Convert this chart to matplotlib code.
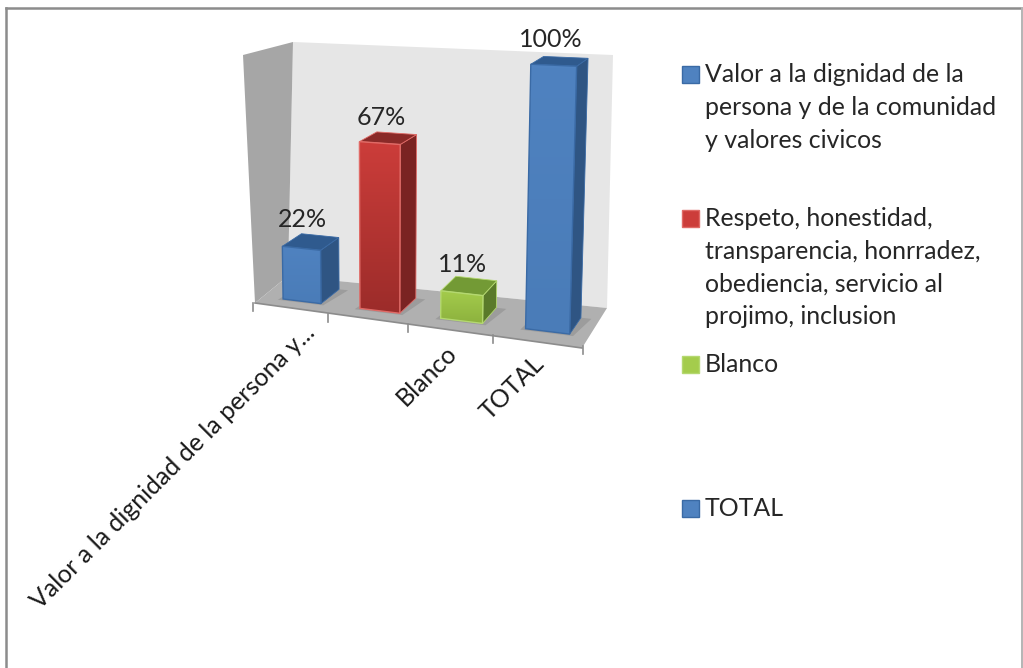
import numpy as np
import matplotlib
matplotlib.use('Agg')
import matplotlib.pyplot as plt
from matplotlib.patches import Polygon, Rectangle

plt.rcParams['font.family'] = ['Lato', 'DejaVu Sans']

# chart data
categories = ['Valor a la dignidad de la persona y...', '', 'Blanco', 'TOTAL']
values = [22, 67, 11, 100]
value_labels = ['22%', '67%', '11%', '100%']
legend_labels = [
    'Valor a la dignidad de la\npersona y de la comunidad\ny valores civicos',
    'Respeto, honestidad,\ntransparencia, honrradez,\nobediencia, servicio al\nprojimo, inclusion',
    'Blanco',
    'TOTAL',
]

# face colours: top of gradient, bottom of gradient, side, roof, edge
bar_styles = [
    ('#4f82c0', '#4a7cb8', '#2f5583', '#2f5a8e', '#3a6aa5'),
    ('#cc3d3a', '#9c2c2a', '#7a2322', '#8a2a28', '#e06a66'),
    ('#a4cc4c', '#8db23e', '#5a7a2a', '#739a35', '#b4d870'),
    ('#4f82c0', '#4a7cb8', '#2f5583', '#2f5a8e', '#3a6aa5'),
]

W, H = 1023, 668
VMAX = 100.0
BAR_WIDTH = 0.5   # of a category slot
BAR_SHIFT = 0.009
D0, D1 = 0.25, 0.72

# scene box corners (x, v, d) -> pixel, used to fit the perspective of the 3d chart
box_3d = np.array([
    [0, 0, 0], [1, 0, 0], [0, 0, 1], [1, 0, 1],
    [0, 1, 0], [0, 1, 1], [1, 1, 1],
], dtype=float)
box_px = np.array([
    [255, 303], [582, 348], [288, 276], [607, 308],
    [243, 55], [293, 42], [613, 55],
], dtype=float)

rows, rhs = [], []
for (x, v, d), (u, w) in zip(box_3d, box_px):
    rows.append([x, v, d, 1, 0, 0, 0, 0, -u * x, -u * v, -u * d])
    rows.append([0, 0, 0, 0, x, v, d, 1, -w * x, -w * v, -w * d])
    rhs += [u, w]
cam = np.linalg.lstsq(np.array(rows), np.array(rhs), rcond=None)[0]
cam = np.append(cam, 1.0).reshape(3, 4)


def project(x, v, d):
    p = cam @ np.array([x, v, d, 1.0])
    return p[0] / p[2], p[1] / p[2]


fig = plt.figure(figsize=(W / 100, H / 100), dpi=100)
ax = fig.add_axes([0, 0, 1, 1])
ax.set_xlim(0, W)
ax.set_ylim(H, 0)
ax.axis('off')


def face(pts, color, z=2, edge='none', lw=0):
    poly = Polygon([project(*p) for p in pts], closed=True, facecolor=color,
                   edgecolor=edge, linewidth=lw, zorder=z)
    ax.add_patch(poly)
    return poly


# outer frame of the chart area
ax.plot([6, 6], [H, 8], color='#8c8c8c', lw=1.8, zorder=1)
ax.plot([6, W - 1], [8, 8], color='#8c8c8c', lw=1.8, zorder=1)
ax.plot([W - 1.5, W - 1.5], [8, H], color='#b4b4b4', lw=1.4, zorder=1)

# walls and floor, straight from the box corners
p00, p10, p01, p11, t00, t01, t11 = box_px
ax.add_patch(Polygon([p01, p11, t11, t01], facecolor='#e6e6e6', zorder=1))
ax.add_patch(Polygon([p00, p01, t01, t00], facecolor='#a6a6a6', zorder=1))
ax.add_patch(Polygon([p00, p10, p11, p01], facecolor='#b0b0b0', zorder=1.5))

# category axis line and ticks
ax.plot([p00[0], p10[0]], [p00[1], p10[1]], color='#8c8c8c', lw=1.2, zorder=1.6)
for i in range(len(categories) + 1):
    tx, ty = project(i / len(categories), 0, 0)
    if i == 0:
        tx, ty = p00[0] - 2, p00[1]
    ax.plot([tx, tx], [ty, ty + 8], color='#8c8c8c', lw=1.2, zorder=1.6)

# bars
n = len(values)
for i, val in enumerate(values):
    x0 = (i + 0.5 - BAR_WIDTH / 2) / n + BAR_SHIFT
    x1 = (i + 0.5 + BAR_WIDTH / 2) / n + BAR_SHIFT
    v = val / VMAX
    top, bottom, side, roof, edge = bar_styles[i]

    # soft shadow on the floor
    shadow = [(x0 - 0.012, 0, D0 - 0.04), (x1 + 0.012, 0, D0 - 0.04),
              (x1 + 0.03, 0, D1), (x0, 0, D1)]
    face(shadow, '#9c9c9c', z=1.8)

    face([(x1, 0, D0), (x1, 0, D1), (x1, v, D1), (x1, v, D0)], side, z=2 + i, edge=edge, lw=0.6)
    face([(x0, v, D0), (x1, v, D0), (x1, v, D1), (x0, v, D1)], roof, z=2 + i, edge=edge, lw=0.6)

    front = [(x0, 0, D0), (x1, 0, D0), (x1, v, D0), (x0, v, D0)]
    clip = face(front, 'none', z=2.2 + i, edge=edge, lw=1.0)
    px = np.array([project(*p) for p in front])
    grad = np.linspace(0, 1, 64)[:, None, None]
    c_top = np.array(matplotlib.colors.to_rgb(top))
    c_bot = np.array(matplotlib.colors.to_rgb(bottom))
    img = ax.imshow(c_top * (1 - grad) + c_bot * grad, aspect='auto', zorder=2.1 + i,
                    extent=(px[:, 0].min(), px[:, 0].max(), px[:, 1].max(), px[:, 1].min()))
    img.set_clip_path(clip)

    # value label over the front top edge
    lx = (px[2, 0] + px[3, 0]) / 2
    ly = (px[2, 1] + px[3, 1]) / 2
    ax.text(lx + (-3 if val == 100 else 1), ly - (26 if val > 60 else 29), value_labels[i],
            ha='center', va='center', fontsize=18, color='#262626', zorder=10)

ax.set_xlim(0, W)
ax.set_ylim(H, 0)

# category labels, right end hung below the tick slot
label_dx = [14, 0, -6, -5]
for i, cat in enumerate(categories):
    if not cat:
        continue
    tx, ty = project((i + 0.5) / n, 0, 0)
    ax.text(tx + label_dx[i], ty + 12, cat, rotation=45, rotation_mode='anchor', ha='right', va='top',
            fontsize=18, color='#1a1a1a', zorder=10)

# legend
legend_y = [74.5, 218.5, 364.5, 508.5]
line_gap = 32.8
for lab, st, y in zip(legend_labels, bar_styles, legend_y):
    ax.add_patch(Rectangle((682, y - 9), 17, 17, facecolor=st[0], edgecolor=st[4], lw=1.0, zorder=5))
    for k, line in enumerate(lab.split('\n')):
        ax.text(705, y + k * line_gap, line, ha='left', va='center', fontsize=17.9,
                color='#262626', zorder=10)

fig.savefig('out.png', dpi=100)
